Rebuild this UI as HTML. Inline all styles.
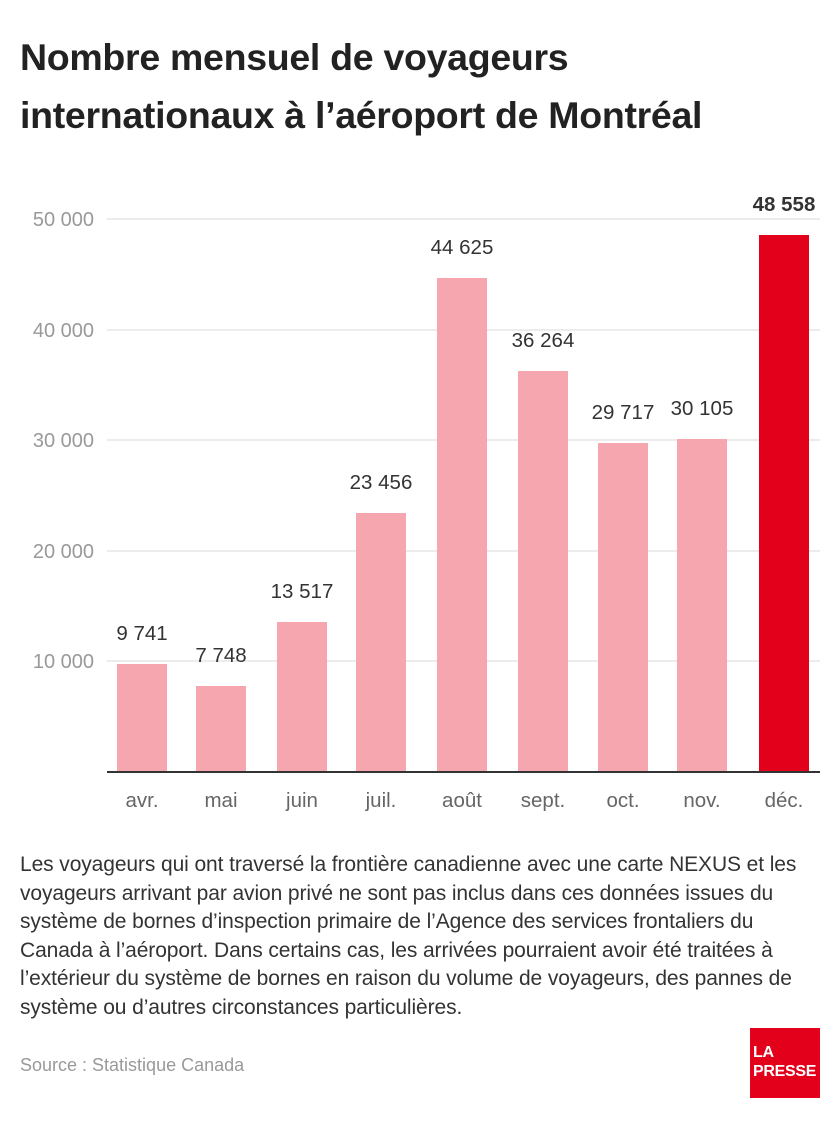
<!DOCTYPE html>
<html><head><meta charset="utf-8"><style>
body{margin:0;background:#fff;width:840px;height:1140px;overflow:hidden;font-family:"Liberation Sans",sans-serif;}
h1{position:absolute;left:20px;top:28px;margin:0;font-size:37.5px;line-height:58px;font-weight:bold;color:#222;letter-spacing:-0.3px;white-space:nowrap;}
.note{position:absolute;left:20px;top:851px;width:815px;font-size:21px;line-height:28.5px;color:#333;white-space:nowrap;letter-spacing:-0.1px;}
.src{position:absolute;left:20px;top:1055px;font-size:18px;color:#999;}
.logo{position:absolute;left:750px;top:1028px;width:70px;height:70px;background:#e2001a;color:#fff;font-weight:bold;font-size:16px;line-height:19px;box-sizing:border-box;padding:15px 0 0 3px;letter-spacing:-0.3px;}
</style></head><body>
<h1>Nombre mensuel de voyageurs<br>internationaux à l’aéroport de Montréal</h1>
<svg width="840" height="840" style="position:absolute;left:0;top:0" font-family="Liberation Sans, sans-serif">
<g stroke="#e6e6e6" stroke-width="1.5">
<line x1="107" x2="820" y1="219" y2="219"/><line x1="107" x2="820" y1="330" y2="330"/>
<line x1="107" x2="820" y1="440" y2="440"/><line x1="107" x2="820" y1="551" y2="551"/>
<line x1="107" x2="820" y1="661" y2="661"/></g>
<g fill="#999" font-size="20" text-anchor="end">
<text x="94" y="226">50 000</text><text x="94" y="337">40 000</text><text x="94" y="447">30 000</text><text x="94" y="558">20 000</text><text x="94" y="668">10 000</text></g>
<g fill="#f5a6ae">
<rect x="117" y="664" width="50" height="108"/>
<rect x="196" y="686" width="50" height="86"/>
<rect x="277" y="622" width="50" height="150"/>
<rect x="356" y="513" width="50" height="259"/>
<rect x="437" y="278" width="50" height="494"/>
<rect x="518" y="371" width="50" height="401"/>
<rect x="598" y="443" width="50" height="329"/>
<rect x="677" y="439" width="50" height="333"/>
</g>
<rect x="759" y="235" width="50" height="537" fill="#e2001a"/>
<line x1="107" x2="820" y1="772" y2="772" stroke="#333" stroke-width="2"/>
<g fill="#333" font-size="20.5" text-anchor="middle">
<text x="142" y="640">9 741</text><text x="221" y="662">7 748</text><text x="302" y="598">13 517</text>
<text x="381" y="489">23 456</text><text x="462" y="254">44 625</text><text x="543" y="347">36 264</text>
<text x="623" y="419">29 717</text><text x="702" y="415">30 105</text>
<text x="784" y="211" font-weight="bold">48 558</text></g>
<g fill="#666" font-size="20.5" text-anchor="middle">
<text x="142" y="807">avr.</text><text x="221" y="807">mai</text><text x="302" y="807">juin</text>
<text x="381" y="807">juil.</text><text x="462" y="807">août</text><text x="543" y="807">sept.</text>
<text x="623" y="807">oct.</text><text x="702" y="807">nov.</text><text x="784" y="807">déc.</text></g>
</svg>
<div class="note">Les voyageurs qui ont traversé la frontière canadienne avec une carte NEXUS et les<br>voyageurs arrivant par avion privé ne sont pas inclus dans ces données issues du<br>système de bornes d’inspection primaire de l’Agence des services frontaliers du<br>Canada à l’aéroport. Dans certains cas, les arrivées pourraient avoir été traitées à<br>l’extérieur du système de bornes en raison du volume de voyageurs, des pannes de<br>système ou d’autres circonstances particulières.</div>
<div class="src">Source : Statistique Canada</div>
<div class="logo">LA<br>PRESSE</div>
</body></html>
